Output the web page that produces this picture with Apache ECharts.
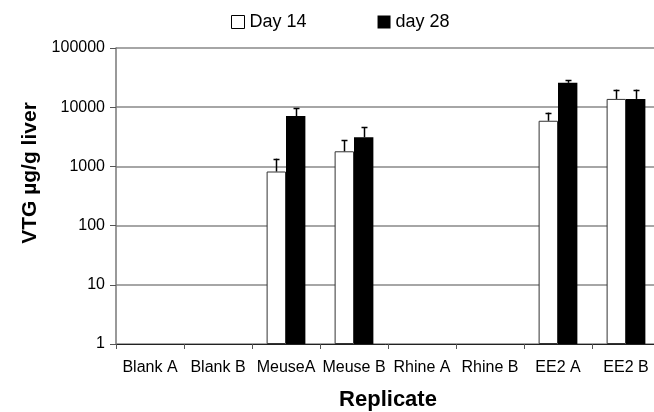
<!DOCTYPE html>
<html>
<head>
<meta charset="utf-8">
<script src="https://cdn.jsdelivr.net/npm/echarts@6/dist/echarts.min.js"></script>
<style>html,body{margin:0;padding:0;background:#fff;}#c{width:654px;height:412px;}</style>
</head>
<body>
<div id="c"></div>
<script>
var categories = ['Blank A', 'Blank B', 'MeuseA', 'Meuse B', 'Rhine A', 'Rhine B', 'EE2 A', 'EE2 B'];
var yTicks = [1, 10, 100, 1000, 10000, 100000];
var day14 = [null, null, 820, 1800, null, null, 5900, 13800];
var day14Err = [null, null, 1350, 2750, null, null, 8100, 19800];
var day28 = [null, null, 7100, 3100, null, null, 25800, 13800];
var day28Err = [null, null, 9600, 4600, null, null, 28600, 19800];

var FONT = '"Liberation Sans", Arial, Helvetica, sans-serif';
var BAR_FRAC = 0.285;

function errData(vals, errs) {
  var out = [];
  for (var i = 0; i < vals.length; i++) {
    if (vals[i] != null && errs[i] != null) out.push([i, vals[i], errs[i]]);
  }
  return out;
}

function makeErrRender(side) {
  return function (params, api) {
    var i = api.value(0);
    var base = api.coord([i, api.value(1)]);
    var top = api.coord([i, api.value(2)]);
    var bw = api.size([1, 0])[0] * BAR_FRAC;
    var x = Math.round(base[0] + side * bw / 2) + 0.5;
    var cap = 3;
    return {
      type: 'group',
      children: [
        { type: 'line', shape: { x1: x, y1: base[1], x2: x, y2: top[1] }, style: { stroke: '#000', lineWidth: 1.5 } },
        { type: 'line', shape: { x1: x - cap, y1: Math.round(top[1]) + 0.5, x2: x + cap, y2: Math.round(top[1]) + 0.5 }, style: { stroke: '#000', lineWidth: 1.5 } }
      ]
    };
  };
}

var chart = echarts.init(document.getElementById('c'), null, { renderer: 'canvas' });
chart.setOption({
  animation: false,
  backgroundColor: '#fff',
  textStyle: { fontFamily: FONT },
  legend: {
    top: 8,
    left: 226,
    itemGap: 71,
    itemWidth: 13,
    itemHeight: 13,
    textStyle: { fontSize: 18, color: '#000', fontFamily: FONT },
    data: [
      { name: 'Day 14', icon: 'rect', itemStyle: { color: '#fff', borderColor: '#000', borderWidth: 1 } },
      { name: 'day 28', icon: 'rect', itemStyle: { color: '#000' } }
    ]
  },
  grid: { left: 116, right: -6, top: 48, bottom: 68, containLabel: false, outerBoundsMode: 'none' },
  xAxis: {
    type: 'category',
    data: categories,
    name: 'Replicate',
    nameLocation: 'middle',
    nameGap: 45,
    nameTextStyle: { fontSize: 22, fontWeight: 'bold', color: '#000', fontFamily: FONT },
    axisLine: { lineStyle: { color: '#222', width: 1 } },
    axisTick: { show: true, length: 5, lineStyle: { color: '#555' } },
    axisLabel: { fontSize: 16, color: '#000', margin: 16, fontFamily: FONT, interval: 0 },
    splitLine: { show: false }
  },
  yAxis: {
    type: 'log',
    logBase: 10,
    min: 1,
    max: 100000,
    name: 'VTG µg/g liver',
    nameLocation: 'middle',
    nameRotate: 90,
    nameGap: 66,
    nameTextStyle: { fontSize: 21, fontWeight: 'bold', color: '#000', fontFamily: FONT, padding: [0, 0, 0, 46] },
    axisLine: { show: true, lineStyle: { color: '#777', width: 1.5 } },
    axisTick: { show: true, inside: false, length: 6, lineStyle: { color: '#555' } },
    axisLabel: {
      fontSize: 16, color: '#000', margin: 11, fontFamily: FONT,
      formatter: function (v) { return yTicks.indexOf(Math.round(v)) >= 0 ? String(Math.round(v)) : ''; }
    },
    splitLine: { show: true, lineStyle: { color: '#888', width: 1.5 } }
  },
  series: [
    {
      name: 'Day 14', type: 'bar', data: day14,
      barWidth: (BAR_FRAC * 100) + '%', barGap: '0%',
      itemStyle: { color: '#fff', borderColor: '#333', borderWidth: 1 }
    },
    {
      name: 'day 28', type: 'bar', data: day28,
      barWidth: (BAR_FRAC * 100) + '%', barGap: '0%',
      itemStyle: { color: '#000' }
    },
    {
      type: 'custom', renderItem: makeErrRender(-1), data: errData(day14, day14Err),
      encode: { x: 0, y: 2 }, z: 5, silent: true
    },
    {
      type: 'custom', renderItem: makeErrRender(1), data: errData(day28, day28Err),
      encode: { x: 0, y: 2 }, z: 5, silent: true
    }
  ]
});
</script>
</body>
</html>
